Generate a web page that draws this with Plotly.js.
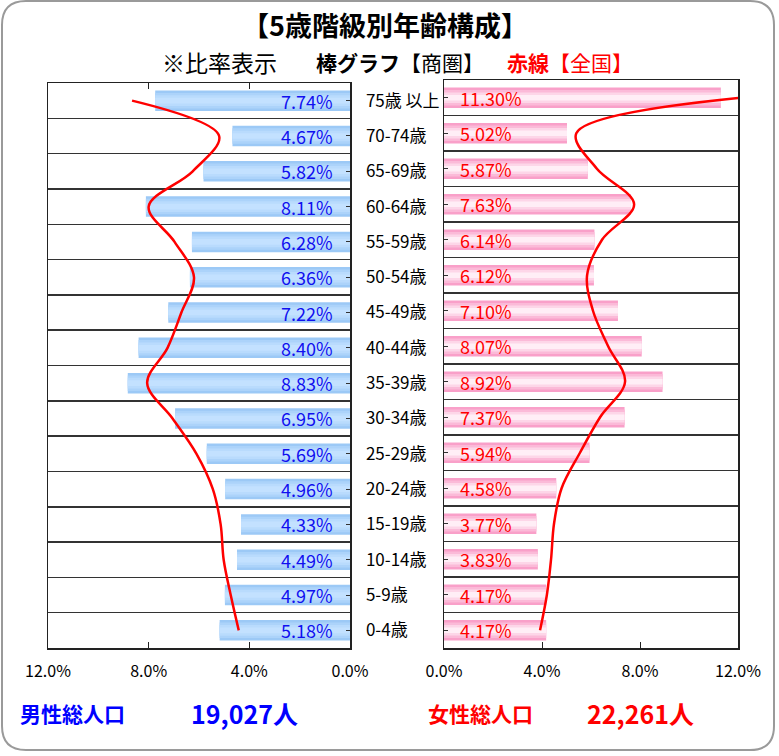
<!DOCTYPE html>
<html>
<head>
<meta charset="utf-8">
<script src="https://cdn.plot.ly/plotly-3.0.1.min.js"></script>
<style>html,body{margin:0;padding:0;background:#fff;}#chart{width:779px;height:756px;}</style>
</head>
<body>
<div id="chart"></div>
<script>
// ---- data ----
const categories = ['75歳 以上','70-74歳','65-69歳','60-64歳','55-59歳','50-54歳','45-49歳','40-44歳','35-39歳','30-34歳','25-29歳','20-24歳','15-19歳','10-14歳','5-9歳','0-4歳'];
const maleArea = [7.74,4.67,5.82,8.11,6.28,6.36,7.22,8.40,8.83,6.95,5.69,4.96,4.33,4.49,4.97,5.18];
const femaleArea = [11.30,5.02,5.87,7.63,6.14,6.12,7.10,8.07,8.92,7.37,5.94,4.58,3.77,3.83,4.17,4.17];
const maleNational = [8.66,5.2,6.25,8.0,6.97,6.2,6.7,7.25,8.06,7.05,6.1,5.45,5.14,5.02,4.74,4.42];
const femaleNational = [12.1,5.4,6.24,7.76,6.45,5.84,6.08,6.7,7.39,6.37,5.55,4.8,4.49,4.37,4.2,3.92];
const xTicks = [0,4,8,12];
const xTickText = xTicks.map(v => v.toFixed(1) + '%');
const maleTotal = 19027;
const femaleTotal = 22261;

// ---- geometry helpers ----
const W = 779, H = 756;
const px = v => v / W;
const py = v => 1 - v / H;
const FONT = '"Noto Sans CJK JP", "Noto Sans", sans-serif';

const blueLayers = [
  {w:0.58, c:'#9cc9f6'},
  {w:0.44, c:'#acd3fa'},
  {w:0.30, c:'#b9dbfd'},
  {w:0.16, c:'#c3e1ff'}
];
const pinkLayers = [
  {w:0.58, c:'#f9a0c9'},
  {w:0.44, c:'#fbbad8'},
  {w:0.30, c:'#fdd6e8'},
  {w:0.16, c:'#ffeef6'}
];

const traces = [];
blueLayers.forEach(l => traces.push({
  type:'bar', orientation:'h', x: maleArea, y: categories, xaxis:'x', yaxis:'y',
  width: l.w, marker:{color:l.c, line:{width:0}}, hoverinfo:'skip', showlegend:false
}));
pinkLayers.forEach(l => traces.push({
  type:'bar', orientation:'h', x: femaleArea, y: categories, xaxis:'x2', yaxis:'y2',
  width: l.w, marker:{color:l.c, line:{width:0}}, hoverinfo:'skip', showlegend:false
}));
traces.push({
  type:'scatter', mode:'lines', x: maleNational, y: categories, xaxis:'x', yaxis:'y',
  line:{color:'#ff0000', width:2.5, shape:'spline', smoothing:1.0}, showlegend:false, hoverinfo:'skip'
});
traces.push({
  type:'scatter', mode:'lines', x: femaleNational, y: categories, xaxis:'x2', yaxis:'y2',
  line:{color:'#ff0000', width:2.5, shape:'spline', smoothing:1.0}, showlegend:false, hoverinfo:'skip'
});
// invisible carriers for the centre tick marks
traces.push({type:'scatter', mode:'markers', x: maleArea, y: categories, xaxis:'x', yaxis:'y3',
  marker:{opacity:0}, showlegend:false, hoverinfo:'skip'});
traces.push({type:'scatter', mode:'markers', x: femaleArea, y: categories, xaxis:'x2', yaxis:'y4',
  marker:{opacity:0}, showlegend:false, hoverinfo:'skip'});

const annotations = [];
categories.forEach((c, i) => {
  annotations.push({xref:'x', yref:'y', x:0, y:c, text: maleArea[i].toFixed(2) + '%',
    xanchor:'right', yanchor:'middle', xshift:-15, showarrow:false,
    font:{family:FONT, size:18, color:'#1010f0'}});
  annotations.push({xref:'x2', yref:'y2', x:0, y:c, text: femaleArea[i].toFixed(2) + '%',
    xanchor:'left', yanchor:'middle', xshift:14, showarrow:false,
    font:{family:FONT, size:18, color:'#ff0000'}});
});
// titles
annotations.push({xref:'paper', yref:'paper', x:px(385), y:py(24), xanchor:'center', yanchor:'middle',
  text:'<b>【5歳階級別年齢構成】</b>', showarrow:false, font:{family:FONT, size:27, color:'#000'}});
annotations.push({xref:'paper', yref:'paper', x:px(160), y:py(62), xanchor:'left', yanchor:'middle',
  text:'※比率表示', showarrow:false, font:{family:FONT, size:23, color:'#000'}});
annotations.push({xref:'paper', yref:'paper', x:px(314), y:py(62), xanchor:'left', yanchor:'middle',
  text:'<b>棒グラフ</b>【商圏】', showarrow:false, font:{family:FONT, size:21, color:'#000'}});
annotations.push({xref:'paper', yref:'paper', x:px(505), y:py(62), xanchor:'left', yanchor:'middle',
  text:'<b>赤線</b>【全国】', showarrow:false, font:{family:FONT, size:21, color:'#ff0000'}});
// totals
annotations.push({xref:'paper', yref:'paper', x:px(18), y:py(713), xanchor:'left', yanchor:'middle',
  text:'<b>男性総人口</b>', showarrow:false, font:{family:FONT, size:21, color:'#0000ff'}});
annotations.push({xref:'paper', yref:'paper', x:px(189), y:py(713), xanchor:'left', yanchor:'middle',
  text:'<b>' + maleTotal.toLocaleString('en-US') + '人</b>', showarrow:false, font:{family:FONT, size:25, color:'#0000ff'}});
annotations.push({xref:'paper', yref:'paper', x:px(426), y:py(713), xanchor:'left', yanchor:'middle',
  text:'<b>女性総人口</b>', showarrow:false, font:{family:FONT, size:21, color:'#ff0000'}});
annotations.push({xref:'paper', yref:'paper', x:px(585), y:py(713), xanchor:'left', yanchor:'middle',
  text:'<b>' + femaleTotal.toLocaleString('en-US') + '人</b>', showarrow:false, font:{family:FONT, size:25, color:'#ff0000'}});

// rounded frame (paper coords)
const x0 = 2, y0 = 1, x1 = 774, y1 = 750, r = 24;
const P = (x, y) => px(x) + ',' + py(y);
const framePath = 'M' + P(x0 + r, y0) + ' L' + P(x1 - r, y0) +
  ' Q' + P(x1, y0) + ' ' + P(x1, y0 + r) + ' L' + P(x1, y1 - r) +
  ' Q' + P(x1, y1) + ' ' + P(x1 - r, y1) + ' L' + P(x0 + r, y1) +
  ' Q' + P(x0, y1) + ' ' + P(x0, y1 - r) + ' L' + P(x0, y0 + r) +
  ' Q' + P(x0, y0) + ' ' + P(x0 + r, y0) + ' Z';

const axisCommon = {
  showline:true, linecolor:'#222', linewidth:1.5, zeroline:false, fixedrange:true
};
const xCommon = Object.assign({}, axisCommon, {
  tickmode:'array', tickvals:xTicks, ticktext:xTickText,
  ticks:'inside', ticklen:6, tickcolor:'#222', showgrid:false,
  tickfont:{family:FONT, size:16, color:'#000'}, ticklabelstandoff:8
});
const catRange = [categories.length - 0.5, -0.5];
const yCommon = Object.assign({}, axisCommon, {
  type:'category', categoryorder:'array', categoryarray:categories,
  autorange:false, range:catRange,
  tickson:'boundaries', ticks:'', showgrid:true, gridcolor:'#333', gridwidth:1.5, mirror:true
});
const yTickOverlay = {
  type:'category', categoryorder:'array', categoryarray:categories,
  autorange:false, range:catRange, showgrid:false, zeroline:false, showline:false,
  ticks:'inside', ticklen:4, tickwidth:1, tickcolor:'#333', showticklabels:false, fixedrange:true
};

const layout = {
  width:W, height:H, margin:{l:0, r:0, t:0, b:0},
  paper_bgcolor:'#ffffff', plot_bgcolor:'#ffffff',
  barmode:'overlay', showlegend:false,
  xaxis: Object.assign({}, xCommon, {domain:[px(48), px(350)], range:[12, 0], anchor:'y', mirror:'ticks'}),
  yaxis: Object.assign({}, yCommon, {domain:[py(648), py(83)], anchor:'x', side:'right',
    showticklabels:true, ticklabelstandoff:11, tickfont:{family:FONT, size:17, color:'#000'}}),
  xaxis2: Object.assign({}, xCommon, {domain:[px(444), px(738)], range:[0, 12], anchor:'y2', mirror:true}),
  yaxis2: Object.assign({}, yCommon, {domain:[py(648), py(80)], anchor:'x2', showticklabels:false}),
  yaxis3: Object.assign({}, yTickOverlay, {overlaying:'y', anchor:'x', side:'right'}),
  yaxis4: Object.assign({}, yTickOverlay, {overlaying:'y2', anchor:'x2', side:'left'}),
  annotations: annotations,
  shapes: [{type:'path', xref:'paper', yref:'paper', path:framePath, line:{color:'#9a9a9a', width:2}}]
};

Plotly.newPlot('chart', traces, layout, {staticPlot:true, displayModeBar:false});
</script>
</body>
</html>
